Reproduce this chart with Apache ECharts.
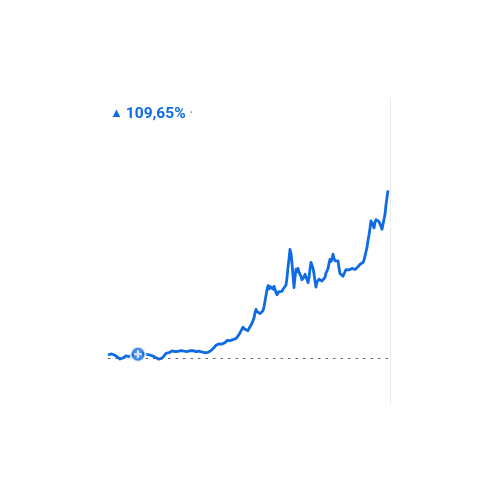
<!DOCTYPE html>
<html>
<head>
<meta charset="utf-8">
<script src="https://cdn.jsdelivr.net/npm/echarts@6/dist/echarts.min.js"></script>
<style>html,body{margin:0;padding:0;background:#fff}#c{width:500px;height:500px}</style>
</head>
<body>
<div id="c"></div>
<script>
// percent change values, evenly spaced in time (daily)
const values = [
  2.0, 2.3, 2.6, 2.7, 2.5, 2.6, 2.2, 1.9, 1.5, 0.9, 0.4, -0.1, -0.6,
  -0.8, -0.5, 0.1, 0.7, 1.2, 1.4, 1.1, 0.8, 1.0, 1.4, 1.8, 2.0, 2.2, 2.3, 2.4, 2.5,
  2.4, 2.5, 2.4, 2.6, 2.5, 2.7, 2.8, 2.9, 2.6, 2.5, 2.4, 2.3, 2.1, 2.0, 1.8, 1.5,
  1.3, 1.0, 0.6, 0.3, -0.1, -0.4, -0.7, -0.9, -0.6, 0.0, 0.8, 1.5, 2.4, 3.1, 3.6,
  3.9, 3.5, 3.8, 4.4, 4.7, 5.4, 4.9, 4.3, 4.5, 4.8, 4.4, 4.2, 4.6, 4.9, 4.5, 4.1,
  4.5, 4.3, 3.9, 4.3, 4.7, 4.4, 4.8, 5.2, 4.6, 4.9, 5.3, 4.6, 4.2, 4.5, 4.1, 4.6,
  4.8, 4.3, 4.0, 3.7, 3.9, 3.5, 3.3, 3.6, 3.8, 4.1, 4.4, 4.9, 5.3, 5.5, 6.8, 7.9,
  8.4, 8.1, 8.9, 9.3, 8.8, 9.6, 9.2, 10.0, 10.5, 10.1, 11.0, 11.5, 11.2, 11.8, 11.4,
  12.2, 12.6, 12.1, 12.9, 13.4, 12.8, 13.6, 14.0, 15.3, 16.4, 17.8, 19.1, 20.2, 19.4,
  18.8, 19.6, 18.5, 17.9, 19.2, 20.5, 21.3, 22.8, 24.0, 26.2, 29.5, 31.8, 30.4, 31.2,
  29.6, 29.1, 30.3, 29.8, 31.0, 33.5, 37.2, 41.0, 44.6, 47.3, 45.2, 46.8, 45.5, 46.3,
  45.1, 46.9, 45.7, 42.9, 41.4, 42.6, 43.5, 42.8, 44.1, 43.6, 45.0, 44.4, 46.2, 47.8,
  52.5, 59.4, 64.8, 71.0, 68.5, 62.0, 54.3, 46.0, 52.8, 58.1, 56.4, 58.6, 56.2, 55.5,
  53.4, 51.2, 50.6, 52.9, 54.8, 53.7, 51.4, 49.3, 52.6, 58.2, 62.5, 63.2, 58.7, 55.1,
  50.3, 46.4, 49.8, 48.6, 51.5, 52.7, 51.2, 50.4, 51.0, 50.2, 52.8, 55.6, 57.0, 58.4,
  61.8, 64.6, 63.1, 64.8, 67.9, 65.2, 63.6, 64.4, 62.9, 63.5, 59.0, 55.3, 54.0, 55.6,
  53.5, 55.1, 56.4, 57.8, 57.0, 58.2, 57.6, 58.9, 58.1, 58.6, 59.3, 58.2, 57.9, 58.6,
  58.1, 59.7, 60.8, 61.3, 60.6, 61.9, 62.5, 64.0, 66.8, 69.5, 72.4, 77.0, 80.5, 84.8,
  89.6, 90.8, 86.9, 85.0, 88.7, 90.5, 89.4, 90.1, 89.2, 89.8, 86.0, 84.2, 87.5, 88.6,
  94.0, 100.3, 99.2, 109.65
];
const markerIndex = 30;
const markerValue = 2.5;
const changeLabel = '109,65%';

const blue = '#0f6be4';
const seriesData = values.map((v, i) => [i, v]);

const chart = echarts.init(document.getElementById('c'), null, {renderer: 'canvas'});
chart.setOption({
  animation: false,
  backgroundColor: '#ffffff',
  title: {
    left: 110, top: 106, padding: 0,
    text: '{a|▲}{b|' + changeLabel + '}{c|·}',
    textStyle: {
      rich: {
        a: {color: blue, fontSize: 13, fontFamily: 'Roboto', padding: [0, 3, 1, 0]},
        b: {color: blue, fontSize: 15.5, fontWeight: 'bold', fontFamily: 'Roboto'},
        c: {color: '#9aa0a6', fontSize: 12, fontFamily: 'Roboto', padding: [0, 0, 0, 4]}
      }
    }
  },
  grid: {left: 108, right: 110, top: 98, bottom: 96},
  xAxis: {
    type: 'value', min: 0, max: 282,
    axisLine: {show: false}, axisTick: {show: false}, axisLabel: {show: false}, splitLine: {show: false}
  },
  yAxis: {
    type: 'value', min: -30, max: 170, position: 'right',
    axisLine: {show: true, onZero: false, lineStyle: {color: '#ebebeb', width: 1}},
    axisTick: {show: false}, axisLabel: {show: false}, splitLine: {show: false}
  },
  series: [
    {
      type: 'line',
      data: seriesData,
      showSymbol: false,
      symbol: 'none',
      lineStyle: {color: blue, width: 2.8, join: 'round'},
      z: 3,
      markLine: {
        silent: true,
        symbol: 'none',
        label: {show: false},
        lineStyle: {color: '#5f6368', type: [2.5, 5], width: 1.2},
        data: [{yAxis: 0}]
      }
    },
    {
      type: 'scatter',
      data: [[markerIndex, markerValue]],
      symbol: 'circle',
      symbolSize: 15,
      itemStyle: {color: blue, borderColor: '#ffffff', borderWidth: 2},
      z: 5
    },
    {
      type: 'scatter',
      data: [[markerIndex, markerValue]],
      symbol: 'path://M3.5,0H6.5V3.5H10V6.5H6.5V10H3.5V6.5H0V3.5H3.5Z',
      symbolSize: 8,
      itemStyle: {color: '#ffffff'},
      z: 6
    }
  ]
});
</script>
</body>
</html>
